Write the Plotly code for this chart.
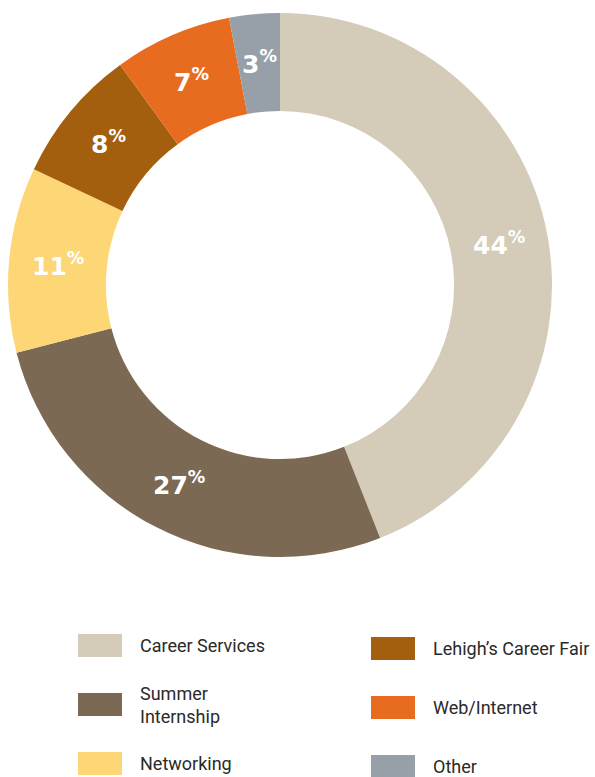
import math
import plotly.graph_objects as go

labels = ["Career Services", "Summer Internship", "Networking",
          "Lehigh’s Career Fair", "Web/Internet", "Other"]
legend_text = ["Career Services", "Summer<br>Internship", "Networking",
               "Lehigh’s Career Fair", "Web/Internet", "Other"]
values = [44, 27, 11, 8, 7, 3]
colors = ["#D4CBB9", "#7B6953", "#FDD676", "#A35E0E", "#E86C1F", "#97A0A8"]

W, H = 595, 777
cx, cy, R = 280, 285, 272
HOLE = 0.64

fig = go.Figure(go.Pie(
    labels=labels, values=values, sort=False, direction="clockwise", rotation=0,
    hole=HOLE, marker=dict(colors=colors, line=dict(width=0)),
    textinfo="none", showlegend=False, hoverinfo="label+percent",
    domain=dict(x=[(cx - R) / W, (cx + R) / W], y=[(H - cy - R) / H, (H - cy + R) / H]),
))

annotations = []
# percentage labels at the middle of each ring segment (uniform size)
total = sum(values)
cum = 0
r_mid = R * (1 + HOLE) / 2
for v in values:
    ang = math.radians((cum + v / 2) / total * 360)
    cum += v
    px = cx + r_mid * math.sin(ang)
    py = cy - r_mid * math.cos(ang)
    annotations.append(dict(xref="paper", yref="paper", x=px / W, y=1 - py / H,
                            xanchor="center", yanchor="middle", showarrow=False,
                            text=f"<b>{v}<sup>%</sup></b>",
                            font=dict(family="DejaVu Sans, sans-serif",
                                      size=25, color="white")))

# custom legend (two columns)
sw_w, sw_h = 44, 23
left_pos = [(78, 634), (78, 693), (78, 752)]
right_pos = [(371, 637), (371, 696), (371, 755)]
positions = left_pos + right_pos
shapes = []
for i, (lab, col) in enumerate(zip(legend_text, colors)):
    x0, y0 = positions[i]
    shapes.append(dict(type="rect", xref="paper", yref="paper",
                       x0=x0 / W, x1=(x0 + sw_w) / W,
                       y0=1 - (y0 + sw_h) / H, y1=1 - y0 / H,
                       fillcolor=col, line=dict(width=0)))
    annotations.append(dict(xref="paper", yref="paper", x=(x0 + sw_w + 16) / W,
                            y=1 - (y0 + sw_h / 2) / H, xanchor="left", yanchor="middle",
                            text=lab, showarrow=False, align="left",
                            font=dict(family="Roboto, Liberation Sans, sans-serif",
                                      size=18, color="#2a2a2a")))

fig.update_layout(width=W, height=H, margin=dict(l=0, r=0, t=0, b=0),
                  paper_bgcolor="white", plot_bgcolor="white",
                  shapes=shapes, annotations=annotations)
fig.write_html("out.html", config={"displayModeBar": False},
               post_script="document.body.style.margin='0px';document.body.style.overflow='hidden';")
